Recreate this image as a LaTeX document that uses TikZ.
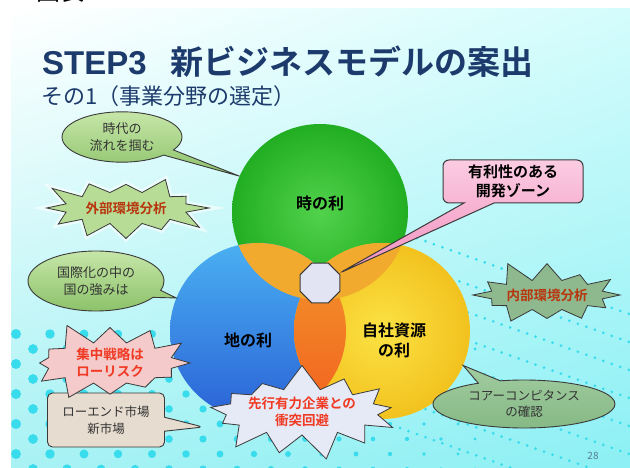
\documentclass[tikz,border=0pt]{standalone}
\usepackage{fontspec}
\setmainfont{Noto Sans CJK JP}[BoldFont={Noto Sans CJK JP Bold}]
\newfontfamily\arialfont{Liberation Sans}
\usetikzlibrary{shapes.geometric,shapes.symbols,shapes.callouts,shadings}

\definecolor{navy}{HTML}{1C3A6B}
\definecolor{bgtr}{HTML}{D4FCFC}
\definecolor{bgbl}{HTML}{A8F2F4}
\definecolor{bgbr}{HTML}{8CF0F4}
\definecolor{dotc}{HTML}{38DCEC}
\definecolor{grL}{HTML}{52D24C}
\definecolor{grD}{HTML}{22AE22}
\definecolor{blL}{HTML}{4AB0F2}
\definecolor{blD}{HTML}{2A62D6}
\definecolor{yeL}{HTML}{FBE244}
\definecolor{yeD}{HTML}{F2C21E}
\definecolor{amber}{HTML}{F2AA2E}
\definecolor{lensT}{HTML}{F2982C}
\definecolor{lensB}{HTML}{F2601E}
\definecolor{lineC}{HTML}{3A3A3A}
\definecolor{callG}{HTML}{C6E6A8}
\definecolor{callGD}{HTML}{8CC26A}
\definecolor{callG2}{HTML}{A2CCA0}
\definecolor{callG2D}{HTML}{84B884}
\definecolor{beige}{HTML}{E6DCD0}
\definecolor{pinkL}{HTML}{FBCCE2}
\definecolor{pinkD}{HTML}{F290BE}
\definecolor{burstG}{HTML}{B6DC96}
\definecolor{burstG2}{HTML}{8EB88E}
\definecolor{burstP}{HTML}{F4CACA}
\definecolor{burstW}{HTML}{E6EAF6}
\definecolor{redT}{HTML}{F03A24}
\definecolor{brownT}{HTML}{B8360E}
\definecolor{octF}{HTML}{E2E4F4}
\definecolor{pgnum}{HTML}{5A7A9A}

\tikzset{
  venn/.style={circle, minimum size=176pt, inner sep=0pt},
  vlabel/.style={font=\bfseries\fontsize{16}{20}\selectfont, align=center, text=black},
  calltext/.style={font=\fontsize{13}{17}\selectfont, align=center, text=black!80},
  callline/.style={draw=lineC, line width=0.9pt},
  burst/.style={starburst, draw=lineC, line width=0.8pt, align=center,
    inner sep=0pt, font=\bfseries\fontsize{13.5}{17}\selectfont},
}

\begin{document}
\begin{tikzpicture}[x=1pt,y=-1pt]
\useasboundingbox (0,0) rectangle (630,468);
\fill[white] (0,0) rectangle (630,468);
\node[anchor=base west, font=\fontsize{24}{24}\selectfont, text=black] (hdr) at (33,1) {図表：};
\shade[upper left=white, upper right=bgtr, lower left=bgbl, lower right=bgbr] (11,9) rectangle (630,468);

% decorative dots and dotted lines
\begin{scope}
\clip (11,9) rectangle (630,468);
\foreach \j in {0,...,9}{
  \foreach \i in {0,...,13}{
    \pgfmathsetmacro{\xx}{16+34*\i+17*mod(\j,2)}
    \pgfmathsetmacro{\yy}{334+15*\j}
    \pgfmathsetmacro{\rr}{max(1.6,5-(\xx-16)*0.0075)}
    \fill[dotc] (\xx,\yy) circle[radius=\rr];
  }
}
\foreach \k in {0,...,7}{
  \draw[dotc, line width=3pt, dash pattern=on 0pt off 9pt, line cap=round]
    (400,232+28*\k) -- (640,232+28*\k+86);
}
\end{scope}

% Venn circles
\node[venn, inner color=grL, outer color=grD] (gC) at (320,212) {};
\node[venn, top color=blL, bottom color=blD] (bC) at (258,331) {};
\node[venn, inner color=yeL, outer color=yeD] (yC) at (382,331) {};
\begin{scope}
  \clip (258,331) circle[radius=88];
  \shade[top color=lensT, bottom color=lensB] (382,331) circle[radius=88];
\end{scope}
\begin{scope}
  \clip (320,212) circle[radius=88];
  \fill[amber] (258,331) circle[radius=88] (382,331) circle[radius=88];
\end{scope}

\node[vlabel] (lg) at (320,203) {時の利};
\node[vlabel] (lb) at (248,340) {地の利};
\node[vlabel] (ly) at (394,340) {自社資源\\の利};

\node[regular polygon, regular polygon sides=8, minimum size=43pt, inner sep=0pt,
      draw=lineC, line width=1.1pt, fill=octF] (oct) at (320,283) {};

% callouts
\node[ellipse callout, callline, top color=callG, bottom color=callGD,
      minimum width=120pt, minimum height=50pt, calltext,
      callout absolute pointer={(gC.156)}] (c1) at (122,137) {時代の\\流れを掴む};
\node[ellipse callout, callline, top color=callG, bottom color=callGD,
      minimum width=136pt, minimum height=60pt, calltext,
      callout absolute pointer={(bC.158)}] (c3) at (96,281) {国際化の中の\\国の強みは};
\node[ellipse callout, callline, top color=callG2, bottom color=callG2D,
      minimum width=182pt, minimum height=48pt, calltext, font=\fontsize{12.5}{16}\selectfont,
      callout absolute pointer={(yC.-23)}] (c8) at (524,404) {コアーコンピタンス\\の確認};
\node[rectangle callout, rounded corners=6pt, callline, line width=1pt,
      top color=pinkL, bottom color=pinkD, minimum width=140pt, minimum height=43pt,
      callout pointer width=30pt, align=center,
      font=\bfseries\fontsize{15}{19}\selectfont,
      callout absolute pointer={(oct.27)}] (c6) at (513,181.5) {有利性のある\\開発ゾーン};

% starbursts
\node[burst, fill=burstW, text=redT, minimum width=200pt, minimum height=98pt,
      starburst points=13, starburst point height=26pt, random starburst=7] (s9) at (302,412)
      {先行有力企業との\\衝突回避};
\coordinate (c5tip) at (203,427);
\node[rectangle callout, rounded corners=5pt, callline, fill=beige,
      minimum width=117pt, minimum height=54pt, calltext, font=\fontsize{12.5}{17}\selectfont,
      callout pointer width=14pt,
      callout absolute pointer={(c5tip)}] (c5) at (106,420) {ローエンド市場\\新市場};
\node[burst, draw=white, line width=6pt, opacity=0.55, minimum width=172pt, minimum height=80pt,
      starburst points=12, starburst point height=24pt, random starburst=3] (s2glow) at (126,208) {};
\node[burst, fill=burstG, text=brownT, minimum width=172pt, minimum height=80pt,
      starburst points=12, starburst point height=24pt, random starburst=3] (s2) at (126,208)
      {外部環境分析};
\node[burst, fill=burstP, text=redT, minimum width=175pt, minimum height=86pt,
      starburst points=12, starburst point height=24pt, random starburst=5] (s4) at (110,363)
      {集中戦略は\\ローリスク};
\node[burst, fill=burstG2, text=brownT, minimum width=140pt, minimum height=74pt,
      starburst points=12, starburst point height=22pt, random starburst=11] (s7) at (547,295)
      {内部環境分析};

% titles
\node[anchor=base west, font=\bfseries\fontsize{33}{33}\selectfont, text=navy, inner sep=0pt]
  (title) at (42,75) {{\arialfont\fontsize{33}{33}\selectfont STEP3}\hspace{24pt}新ビジネスモデルの案出};
\node[anchor=base west, font=\fontsize{22}{22}\selectfont, text=navy, inner sep=0pt]
  (sub) at (41,105) {その1（事業分野の選定）};
\node[font=\fontsize{10}{12}\selectfont, text=pgnum] (pg) at (593,456) {28};
\end{tikzpicture}
\end{document}
